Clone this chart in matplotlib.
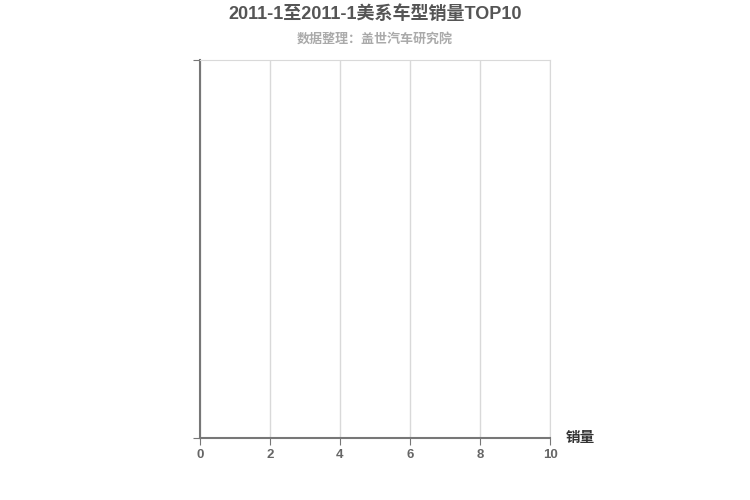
import matplotlib
matplotlib.use("Agg")
import matplotlib.pyplot as plt

plt.rcParams['font.family'] = ['Liberation Sans', 'Noto Sans CJK SC', 'DejaVu Sans']

title = "2011-1至2011-1美系车型销量TOP10"
subtitle = "数据整理：盖世汽车研究院"
models = []   # no data in this period
sales = []
xticks = [0, 2, 4, 6, 8, 10]

fig = plt.figure(figsize=(7.5, 5), dpi=100)
ax = fig.add_axes([200/750, 62/500, 350/750, 378/500])

ax.barh(range(len(models)), sales, color="#5b9bd5")
ax.set_xlim(0, 10)
ax.set_ylim(0, 1)
ax.set_xticks(xticks)
ax.set_xticklabels([str(v) for v in xticks], color="#666666", fontsize=9.5, fontweight="bold")
ax.set_yticks([0, 1])
ax.set_yticklabels(["", ""])
ax.grid(axis="x", color="#d9d9d9", linewidth=1)
ax.set_axisbelow(True)

for s in ["top", "right"]:
    ax.spines[s].set_color("#d9d9d9")
for s in ["left", "bottom"]:
    ax.spines[s].set_color("#777777")
    ax.spines[s].set_linewidth(1.5)
ax.tick_params(axis="x", length=5, color="#777777", pad=3)
ax.tick_params(axis="y", length=5, color="#777777")

fig.text(0.5, 1 - 14/500, title, ha="center", va="center",
         fontsize=13, fontweight="bold", color="#555555")
fig.text(0.5, 1 - 39/500, subtitle, ha="center", va="center",
         fontsize=9.4, fontweight="bold", color="#aaaaaa")
fig.text(580/750, 1 - 438/500, "销量", ha="center", va="center",
         fontsize=10.5, fontweight="bold", color="#333333")

fig.savefig("out.png", dpi=100)
